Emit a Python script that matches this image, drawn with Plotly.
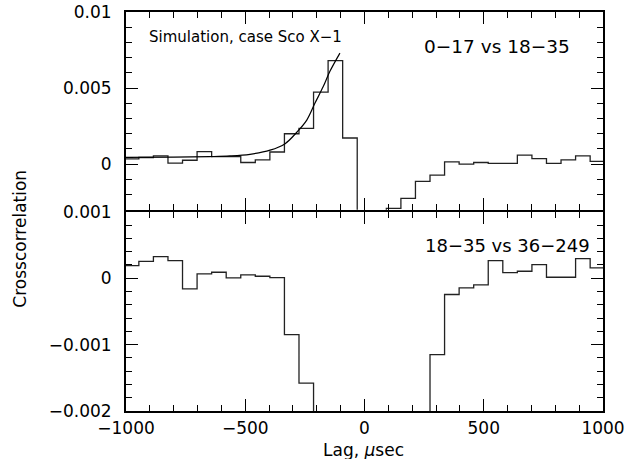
import plotly.graph_objects as go
from plotly.subplots import make_subplots

# ---------------- data ----------------
bin_width = 61.04            # lag bin width, microseconds (2^-14 s)
bin_index = list(range(-16, 17))

top_values = [0.00035, 0.00044, 0.00054, 0.00007, 0.00026, 0.00083, 0.0005, 0.0005,
              0.00011, 0.00028, 0.0008, 0.0020, 0.00235, 0.00474, 0.0068, 0.00172,
              -0.0045, -0.0045, -0.0029, -0.00224, -0.00113, -0.00072, 0.00015, 0.0,
              0.00011, 0.00005, 0.00005, 0.00059, 0.00037, 0.00005, 0.00028, 0.00054, 0.00018]

bottom_values = [0.00019, 0.000255, 0.000325, 0.000265, -0.00016, 0.000065, 0.00009, 0.000005,
                 0.00005, 0.00003, 0.00001, -0.00085, -0.00158, -0.003, -0.003, -0.003,
                 -0.003, -0.003, -0.003, -0.003, -0.003, -0.00115, -0.000245, -0.000145,
                 -0.0001, 0.000265, 0.000085, 0.000105, 0.000205, 0.000015, 0.000015, 0.000295, 0.000155]

sim_lag = [-1000, -800, -650, -564, -480, -396, -333, -284, -242, -208, -173, -145, -103]
sim_corr = [0.00045, 0.00047, 0.0005, 0.00054, 0.00065, 0.00092, 0.00135, 0.0021, 0.0029,
            0.0040, 0.0051, 0.0061, 0.0073]

x_ticks = [-1000, -500, 0, 500, 1000]
top_yticks = [0, 0.005, 0.01]
top_yticktext = ["0", "0.005", "0.01"]
bot_yticks = [-0.002, -0.001, 0, 0.001]
bot_yticktext = ["\u22120.002", "\u22120.001", "0", "0.001"]

# ---------------- helpers ----------------
edges = [(k - 0.5) * bin_width for k in bin_index] + [(bin_index[-1] + 0.5) * bin_width]


def step_xy(vals):
    return edges, list(vals) + [vals[-1]]


FONT = "DejaVu Sans"
fig = make_subplots(rows=2, cols=1, shared_xaxes=True, vertical_spacing=0)

tx, ty = step_xy(top_values)
fig.add_trace(go.Scatter(x=tx, y=ty, mode="lines", line=dict(shape="hv", color="#222", width=1.3),
                         showlegend=False), row=1, col=1)
fig.add_trace(go.Scatter(x=sim_lag, y=sim_corr, mode="lines",
                         line=dict(shape="spline", color="#000", width=1.2), showlegend=False),
              row=1, col=1)
bx, by = step_xy(bottom_values)
fig.add_trace(go.Scatter(x=bx, y=by, mode="lines", line=dict(shape="hv", color="#222", width=1.3),
                         showlegend=False), row=2, col=1)

axis_common = dict(showline=True, linecolor="black", linewidth=2, mirror="allticks",
                   ticks="inside", tickcolor="black", tickwidth=1, showgrid=False, zeroline=False,
                   automargin=False, ticklabeloverflow="allow",
                   tickfont=dict(family=FONT, size=17, color="black"))

plot_h = 459 - 12 - 48.3
split = 200.0 / plot_h
gap = 1.0 / plot_h
fig.update_xaxes(range=[-1000, 1000], tickvals=x_ticks, ticklen=12,
                 minor=dict(dtick=100, ticklen=6, ticks="inside", tickcolor="black", showgrid=False),
                 **axis_common)
fig.update_xaxes(showticklabels=False, row=1, col=1)
fig.update_xaxes(showticklabels=True, ticklabelstandoff=1, row=2, col=1)

fig.update_yaxes(range=[-0.003, 0.01], tickvals=top_yticks, ticktext=top_yticktext, ticklen=12,
                 minor=dict(dtick=0.001, tick0=0, ticklen=6, ticks="inside", tickcolor="black", showgrid=False),
                 domain=[split + gap, 1], ticklabelstandoff=9, row=1, col=1, **axis_common)
fig.update_yaxes(range=[-0.002, 0.001], tickvals=bot_yticks, ticktext=bot_yticktext, ticklen=12,
                 minor=dict(dtick=0.0002, tick0=0, ticklen=6, ticks="inside", tickcolor="black", showgrid=False),
                 domain=[0, split - gap], ticklabelstandoff=9, row=2, col=1, **axis_common)

fig.add_annotation(x=-912, y=0.00839, xref="x", yref="y", text="Simulation, case Sco X\u22121",
                   showarrow=False, xanchor="left", yanchor="middle",
                   font=dict(family=FONT, size=15, color="black"))
fig.add_annotation(x=556, y=0.00774, xref="x", yref="y", text="0\u221217 vs 18\u221235",
                   showarrow=False, xanchor="center", yanchor="middle",
                   font=dict(family=FONT, size=18.5, color="black"))
fig.add_annotation(x=953, y=0.00049, xref="x2", yref="y2", text="18\u221235 vs 36\u2212249",
                   showarrow=False, xanchor="right", yanchor="middle",
                   font=dict(family=FONT, size=18, color="black"))
fig.add_annotation(x=(20 - 126) / 477, y=(410.7 - 238.5) / plot_h, xref="paper", yref="paper",
                   text="Crosscorrelation", textangle=-90, showarrow=False,
                   xanchor="center", yanchor="middle",
                   font=dict(family=FONT, size=17, color="black"))
fig.add_annotation(x=(363 - 126) / 477, y=(410.7 - 450) / plot_h, xref="paper", yref="paper",
                   text="Lag, <i>\u00b5</i>sec", showarrow=False, xanchor="center", yanchor="middle",
                   font=dict(family=FONT, size=17, color="black"))

fig.update_layout(width=625, height=459,
                  margin=dict(l=126, r=22, t=12, b=48.3, autoexpand=False),
                  plot_bgcolor="white", paper_bgcolor="white", showlegend=False)

fig.write_html("out.html", config={"displayModeBar": False},
               post_script="document.body.style.margin='0';")
